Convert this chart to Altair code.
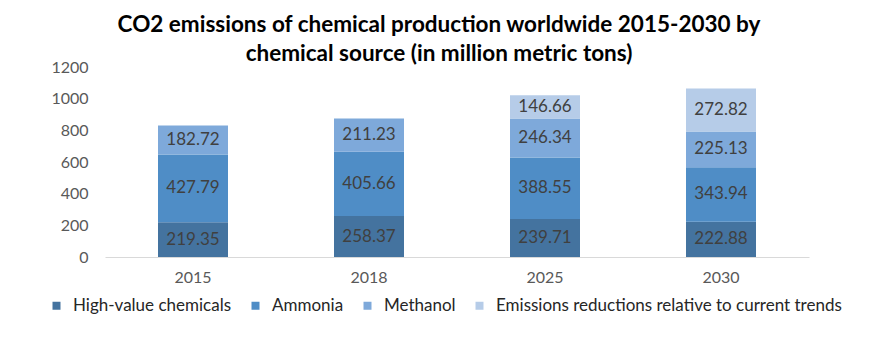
import altair as alt
import pandas as pd

years = ["2015", "2018", "2025", "2030"]
series = ["High-value chemicals", "Ammonia", "Methanol", "Emissions reductions relative to current trends"]
high_value = [219.35, 258.37, 239.71, 222.88]
ammonia = [427.79, 405.66, 388.55, 343.94]
methanol = [182.72, 211.23, 246.34, 225.13]
reductions = [None, None, 146.66, 272.82]
colors = ["#44739F", "#4F8DC6", "#7EA9DA", "#B6CCE8"]
y_ticks = [0, 200, 400, 600, 800, 1000, 1200]

rows = []
for i, y in enumerate(years):
    for j, (name, vals) in enumerate(zip(series, [high_value, ammonia, methanol, reductions])):
        if vals[i] is not None:
            rows.append({"year": y, "series": name, "value": vals[i], "order": j,
                         "label": f"{vals[i]:.2f}"})
df = pd.DataFrame(rows)

font = "Lato"

y_axis = alt.Axis(values=y_ticks, format="d", labelOverlap=False, grid=False, domain=False,
                  ticks=False, labelFontSize=16, labelColor="#595959", labelFont=font,
                  labelPadding=17)
y_scale = alt.Scale(domain=[0, 1200])

base = alt.Chart(df).encode(
    x=alt.X("year:N", title=None, sort=years,
            scale=alt.Scale(paddingInner=0.6, paddingOuter=0.3),
            axis=alt.Axis(labelAngle=0, labelFontSize=16, labelColor="#595959", labelFont=font,
                          domainColor="#D9D9D9", ticks=False, labelPadding=12)),
    order=alt.Order("order:Q"),
)

bars = base.mark_bar(size=70).encode(
    y=alt.Y("value:Q", stack="zero", title=None, scale=y_scale, axis=y_axis),
    color=alt.Color("series:N", sort=series,
                    scale=alt.Scale(domain=series, range=colors),
                    legend=alt.Legend(title=None, orient="none", direction="horizontal",
                                      legendX=-57, legendY=230, symbolType="square",
                                      symbolSize=64, symbolStrokeWidth=0,
                                      labelFontSize=17, labelColor="#262626", labelFont=font,
                                      columnPadding=15, labelOffset=8, labelLimit=500)),
)

labels = base.transform_stack(
    stack="value", groupby=["year"], as_=["v0", "v1"], sort=[alt.SortField("order")]
).transform_calculate(mid="(datum.v0 + datum.v1) / 2").mark_text(
    fontSize=17, color="#404040", font=font
).encode(
    y=alt.Y("mid:Q", title=None, scale=y_scale, axis=y_axis),
    text="label:N",
)

chart = alt.layer(bars, labels).properties(
    width=704, height=190,
    title=alt.TitleParams(
        ["CO2 emissions of chemical production worldwide 2015-2030 by",
         "chemical source (in  million metric tons)"],
        fontSize=22.5, font=font, fontWeight="bold", color="#000000",
        anchor="middle", dx=-18, dy=14, offset=8, lineHeight=29),
    autosize=alt.AutoSizeParams(type="none"),
    padding={"left": 97, "top": 59, "right": 60, "bottom": 98},
).configure_view(stroke=None)

chart.save("out.html", embed_options={"renderer": "svg", "actions": False})
